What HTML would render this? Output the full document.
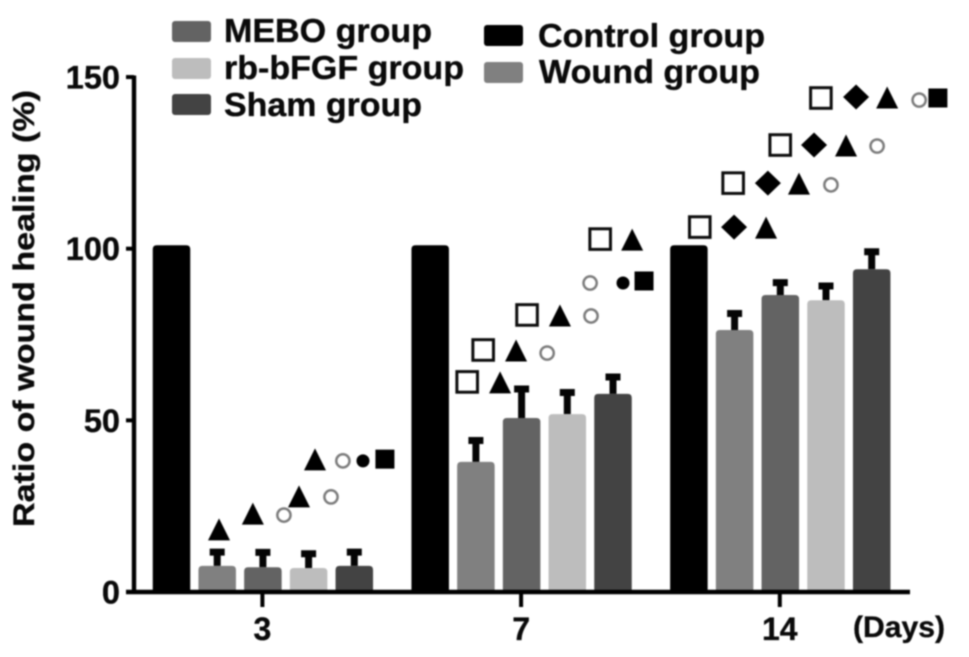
<!DOCTYPE html>
<html lang="en">
<head>
<meta charset="utf-8">
<title>Ratio of wound healing</title>
<style>
html,body{margin:0;padding:0;background:#fff;width:969px;height:657px;overflow:hidden}
svg{display:block;filter:blur(0.8px)}
text{font-family:"Liberation Sans",sans-serif;font-weight:bold;fill:#0a0a0a;stroke:#0a0a0a;stroke-width:0.35px}
</style>
</head>
<body>
<svg id="chart" xmlns="http://www.w3.org/2000/svg" width="969" height="657" viewBox="0 0 969 657">
  <rect width="969" height="657" fill="#fff"/>
  <g id="plot"></g>
  <g id="markers"></g>
  <g id="axes"></g>
  <text transform="translate(34,527) rotate(-90)" font-size="29.5" textLength="437" lengthAdjust="spacingAndGlyphs">Ratio of wound healing (%)</text>
  <text x="853" y="637" font-size="30" textLength="92" lengthAdjust="spacingAndGlyphs">(Days)</text>
  <g>
    <g>
      <rect x="172" y="21" width="39" height="21" rx="3" fill="#636363"/>
      <text x="224" y="42" font-size="33" textLength="208" lengthAdjust="spacingAndGlyphs">MEBO group</text>
    </g>
    <g>
      <rect x="172" y="58" width="39" height="21" rx="3" fill="#bdbdbd"/>
      <text x="224" y="79" font-size="33" textLength="240" lengthAdjust="spacingAndGlyphs">rb-bFGF group</text>
    </g>
    <g>
      <rect x="172" y="94" width="39" height="21" rx="3" fill="#434343"/>
      <text x="224" y="116" font-size="33" textLength="198" lengthAdjust="spacingAndGlyphs">Sham group</text>
    </g>
    <g>
      <rect x="484" y="25" width="39" height="21" rx="3" fill="#000"/>
      <text x="538" y="47" font-size="33" textLength="227" lengthAdjust="spacingAndGlyphs">Control group</text>
    </g>
    <g>
      <rect x="484" y="62" width="39" height="21" rx="3" fill="#808080"/>
      <text x="539" y="83" font-size="33" textLength="221" lengthAdjust="spacingAndGlyphs">Wound group</text>
    </g>
  </g>
</svg>
<script>
const days = ['3', '7', '14'];
const seriesNames = ['control', 'wound', 'mebo', 'rb-bfgf', 'sham'];
const seriesColors = ['#000000', '#808080', '#636363', '#bdbdbd', '#434343'];
const controlValues = [101, 101, 101];
const woundValues = [7.6, 37.9, 76.3];
const meboValues = [7.2, 50.7, 86.5];
const rbValues = [7, 51.8, 85];
const shamValues = [7.6, 57.7, 94];
const controlErrors = [0, 0, 0];
const woundErrors = [4.9, 7.1, 5.7];
const meboErrors = [5.2, 9.3, 4.5];
const rbErrors = [5, 7.2, 5];
const shamErrors = [4.9, 5.8, 6];
const yTicks = [0, 50, 100, 150];
const markerKinds = [
  'tri','tri','circle','tri','circle','tri','circle','dot','square',
  'box','tri','box','tri','circle','box','tri','circle','box','tri','circle','dot','square',
  'box','diamond','tri','box','diamond','tri','circle','box','diamond','tri','circle','box','diamond','tri','circle','square'
];
const markerSlots = [
  1.04,1.78,2.46,2.79,3.49,3.14,3.75,4.19,4.67,
  6.47,7.19,6.82,7.54,8.22,7.78,8.50,9.18,9.38,10.08,9.16,9.88,10.34,
  11.56,12.31,13.01,12.29,13.05,13.73,14.43,13.32,14.06,14.76,15.44,14.21,14.98,15.66,16.36,16.77
];
const markerValues = [
  18.1,22.7,22.4,27.7,27.7,38.5,38.2,38.2,38.7,
  61.2,60.9,70.5,70.2,69.6,80.7,80.4,80.4,102.8,102.5,90,90,90.6,
  106.3,106.3,106,119.1,119.1,118.8,118.6,130.2,130.2,129.9,129.9,143.9,144.2,143.9,143.3,143.9
];

const allValues = [controlValues, woundValues, meboValues, rbValues, shamValues];
const allErrors = [controlErrors, woundErrors, meboErrors, rbErrors, shamErrors];
const NS = 'http://www.w3.org/2000/svg';
const Y0 = 592, UNIT = 3.433, X0 = 171.5, SLOT = 45.7, GROUP = 258.7, BAR_W = 37.5;
function yScale(v) { return Y0 - v * UNIT; }
function slotX(u) { return X0 + u * SLOT; }
function barX(g, s) { return X0 + g * GROUP + s * SLOT; }
function make(parent, tag, attrs) {
  const el = document.createElementNS(NS, tag);
  for (const k in attrs) el.setAttribute(k, attrs[k]);
  parent.appendChild(el);
  return el;
}
const plot = document.getElementById('plot');
const axes = document.getElementById('axes');
const markers = document.getElementById('markers');

days.forEach(function (day, g) {
  seriesNames.forEach(function (name, s) {
    const v = allValues[s][g], e = allErrors[s][g];
    const cx = barX(g, s);
    if (e > 0) {
      const err = make(plot, 'path', {
        d: 'M' + cx + ' ' + yScale(v) + 'V' + yScale(v + e) + 'M' + (cx - 7.5) + ' ' + (yScale(v + e) + 3) + 'H' + (cx + 7.5),
        fill: 'none', stroke: '#050505', 'stroke-width': 7
      });
      
      
    }
    const top = yScale(v), l = cx - BAR_W / 2, r = 4;
    const bar = make(plot, 'path', {
      d: 'M' + l + ' ' + Y0 + 'V' + (top + r) + 'Q' + l + ' ' + top + ' ' + (l + r) + ' ' + top +
         'H' + (l + BAR_W - r) + 'Q' + (l + BAR_W) + ' ' + top + ' ' + (l + BAR_W) + ' ' + (top + r) + 'V' + Y0 + 'Z',
      fill: seriesColors[s]
    });
    
    
  });
});

markerKinds.forEach(function (kind, i) {
  const x = slotX(markerSlots[i]), y = yScale(markerValues[i]);
  let m;
  if (kind === 'tri') {
    m = make(markers, 'path', { d: 'M' + x + ' ' + (y - 11.5) + 'L' + (x + 11) + ' ' + (y + 10.5) + 'H' + (x - 11) + 'Z', fill: '#000' });
  } else if (kind === 'circle') {
    m = make(markers, 'circle', { cx: x, cy: y, r: 6.6, fill: '#fff', stroke: '#7c7c7c', 'stroke-width': 2.5 });
  } else if (kind === 'dot') {
    m = make(markers, 'circle', { cx: x, cy: y, r: 6.5, fill: '#000' });
  } else if (kind === 'square') {
    m = make(markers, 'rect', { x: x - 9.5, y: y - 9.5, width: 19, height: 19, fill: '#000' });
  } else if (kind === 'box') {
    m = make(markers, 'rect', { x: x - 10.3, y: y - 10.3, width: 20.6, height: 20.6, fill: '#fff', stroke: '#0d0d0d', 'stroke-width': 3 });
  } else {
    m = make(markers, 'path', { d: 'M' + x + ' ' + (y - 12.5) + 'L' + (x + 13) + ' ' + y + 'L' + x + ' ' + (y + 12.5) + 'L' + (x - 13) + ' ' + y + 'Z', fill: '#000' });
  }
  
  
});

const yLine = make(axes, 'line', { x1: 134, x2: 134, y1: 75.5, y2: 594, stroke: '#000', 'stroke-width': 4.4 });


const xLine = make(axes, 'line', { x1: 126, x2: 910, y1: 592, y2: 592, stroke: '#000', 'stroke-width': 4.4 });



yTicks.forEach(function (t) {
  const y = yScale(t);
  const tick = make(axes, 'line', { x1: 126, x2: 134, y1: y, y2: y, stroke: '#000', 'stroke-width': 4 });
  
  
  const label = make(axes, 'text', { x: 120, y: y + 11.5, 'font-size': 32.5, 'text-anchor': 'end' });
  label.textContent = String(t);
  
  
});

days.forEach(function (day, g) {
  const x = barX(g, 2) - 0.5;
  const tick = make(axes, 'line', { x1: x, x2: x, y1: 592, y2: 607, stroke: '#000', 'stroke-width': 4 });
  
  
  const label = make(axes, 'text', { x: x, y: 640, 'font-size': 32, 'text-anchor': 'middle' });
  label.textContent = day;
  
  
});
</script>
</body>
</html>
